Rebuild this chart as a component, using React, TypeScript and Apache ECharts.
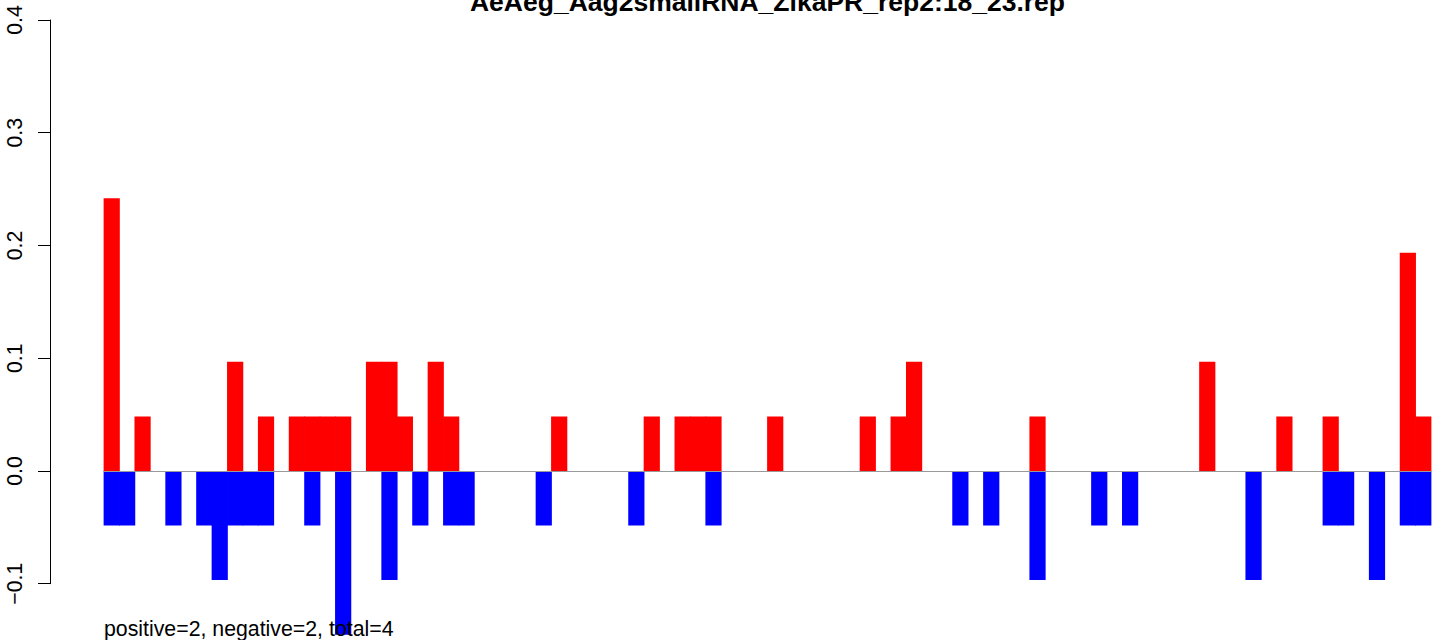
import React, { useEffect, useRef } from "react";
import * as echarts from "echarts";

const TITLE = "AeAeg_Aag2smallRNA_ZikaPR_rep2:18_23.rep";
const FOOTNOTE = "positive=2, negative=2, total=4";

// bar positions 1..86
const categories: string[] = [
  "1","2","3","4","5","6","7","8","9","10","11","12","13","14","15","16","17","18","19","20",
  "21","22","23","24","25","26","27","28","29","30","31","32","33","34","35","36","37","38","39","40",
  "41","42","43","44","45","46","47","48","49","50","51","52","53","54","55","56","57","58","59","60",
  "61","62","63","64","65","66","67","68","69","70","71","72","73","74","75","76","77","78","79","80",
  "81","82","83","84","85","86",
];

// positive (red) values
const positive: number[] = [
  0.2419, 0, 0.0484, 0, 0, 0, 0, 0, 0.0968, 0,
  0.0484, 0, 0.0484, 0.0484, 0.0484, 0.0484, 0, 0.0968, 0.0968, 0.0484,
  0, 0.0968, 0.0484, 0, 0, 0, 0, 0, 0, 0.0484,
  0, 0, 0, 0, 0, 0.0484, 0, 0.0484, 0.0484, 0.0484,
  0, 0, 0, 0.0484, 0, 0, 0, 0, 0, 0.0484,
  0, 0.0484, 0.0968, 0, 0, 0, 0, 0, 0, 0,
  0.0484, 0, 0, 0, 0, 0, 0, 0, 0, 0,
  0, 0.0968, 0, 0, 0, 0, 0.0484, 0, 0, 0.0484,
  0, 0, 0, 0, 0.1935, 0.0484,
];

// negative (blue) values
const negative: number[] = [
  -0.0484, -0.0484, 0, 0, -0.0484, 0, -0.0484, -0.0968, -0.0484, -0.0484,
  -0.0484, 0, 0, -0.0484, 0, -0.1452, 0, 0, -0.0968, 0,
  -0.0484, 0, -0.0484, -0.0484, 0, 0, 0, 0, -0.0484, 0,
  0, 0, 0, 0, -0.0484, 0, 0, 0, 0, -0.0484,
  0, 0, 0, 0, 0, 0, 0, 0, 0, 0,
  0, 0, 0, 0, 0, -0.0484, 0, -0.0484, 0, 0,
  -0.0968, 0, 0, 0, -0.0484, 0, -0.0484, 0, 0, 0,
  0, 0, 0, 0, -0.0968, 0, 0, 0, 0, -0.0484,
  -0.0484, 0, -0.0968, 0, -0.0484, -0.0484,
];

const FONT = "Liberation Sans, Arial, Helvetica, sans-serif";
const RED = "#FF0000";
const BLUE = "#0000FF";

export default function App() {
  const ref = useRef<HTMLDivElement>(null);

  useEffect(() => {
    if (!ref.current) return;
    const chart = echarts.init(ref.current, undefined, { renderer: "svg" });
    chart.setOption({
      animation: false,
      backgroundColor: "#ffffff",
      grid: { left: 104, right: 8, top: 20, bottom: 56.3, containLabel: false },
      xAxis: {
        type: "category",
        data: categories,
        boundaryGap: true,
        z: 10,
        axisLine: { show: true, onZero: true, lineStyle: { color: "#999999", width: 1.2 } },
        axisTick: { show: false },
        axisLabel: { show: false },
        splitLine: { show: false },
      },
      yAxis: {
        type: "value",
        min: -0.1,
        max: 0.4,
        interval: 0.1,
        offset: 54,
        splitLine: { show: false },
        axisLine: { show: true, lineStyle: { color: "#000000", width: 1 } },
        axisTick: { show: true, length: 12, lineStyle: { color: "#000000", width: 1 } },
        axisLabel: {
          rotate: 90,
          fontSize: 21.3,
          color: "#000000",
          fontFamily: FONT,
          margin: 25,
          formatter: (v: number) => (v < 0 ? "\u2212" + Math.abs(v).toFixed(1) : v.toFixed(1)),
        },
      },
      series: [
        {
          type: "bar",
          name: "positive",
          data: positive.map((v) => (v === 0 ? null : v)),
          barWidth: 16.2,
          barGap: "-100%",
          clip: false,
          itemStyle: { color: RED },
        },
        {
          type: "bar",
          name: "negative",
          data: negative.map((v) => (v === 0 ? null : v)),
          barWidth: 16.2,
          barGap: "-100%",
          clip: false,
          itemStyle: { color: BLUE },
        },
      ],
      graphic: [
        {
          type: "text",
          z: 100,
          x: 767.5,
          y: 1.8,
          style: {
            text: TITLE,
            fontFamily: FONT,
            fontSize: 26.5,
            fontWeight: "bold",
            fill: "#000000",
            align: "center",
            verticalAlign: "middle",
          },
        },
        {
          type: "text",
          z: 100,
          x: 104,
          y: 628.6,
          style: {
            text: FOOTNOTE,
            fontFamily: FONT,
            fontSize: 21.3,
            fill: "#000000",
            align: "left",
            verticalAlign: "middle",
          },
        },
      ],
    });
    return () => chart.dispose();
  }, []);

  return (
    <div
      ref={ref}
      style={{ position: "absolute", left: 0, top: 0, width: 1439, height: 640 }}
    />
  );
}
